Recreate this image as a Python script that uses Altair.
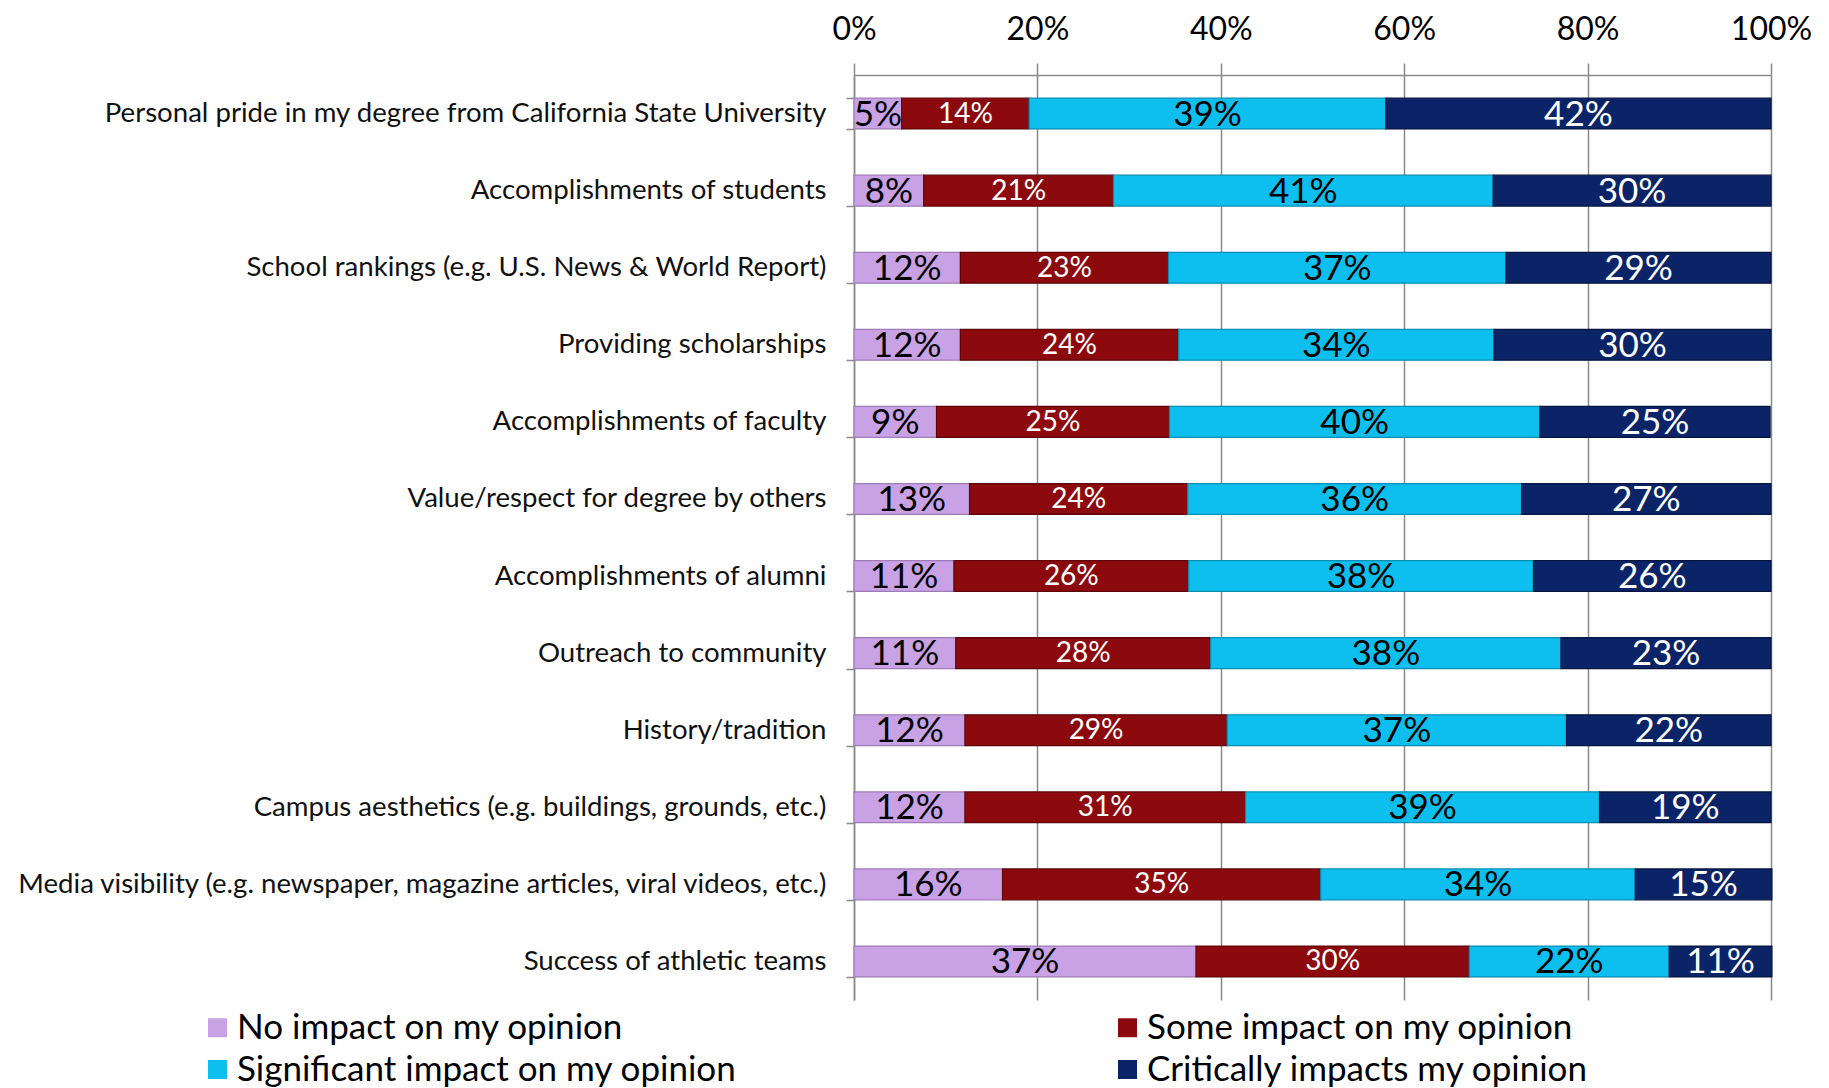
import altair as alt
import pandas as pd

items = [
    "Personal pride in my degree from California State University",
    "Accomplishments of students",
    "School rankings (e.g. U.S. News & World Report)",
    "Providing scholarships",
    "Accomplishments of faculty",
    "Value/respect for degree by others",
    "Accomplishments of alumni",
    "Outreach to community",
    "History/tradition",
    "Campus aesthetics (e.g. buildings, grounds, etc.)",
    "Media visibility (e.g. newspaper, magazine articles, viral videos, etc.)",
    "Success of athletic teams",
]

series = [
    "No impact on my opinion",
    "Some impact on my opinion",
    "Significant impact on my opinion",
    "Critically impacts my opinion",
]
colors = ["#C9A2E6", "#8C0A0E", "#0DBFEE", "#0B2468"]
edge_colors = ["#9F7BB8", "#5E0508", "#0A8DB3", "#061540"]

no_impact = [5.2, 7.6, 11.6, 11.6, 9.0, 12.6, 10.9, 11.1, 12.1, 12.1, 16.2, 37.3]
some_impact = [13.9, 20.7, 22.7, 23.8, 25.4, 23.8, 25.6, 27.8, 28.6, 30.6, 34.7, 29.8]
significant = [38.9, 41.4, 36.8, 34.4, 40.4, 36.4, 37.6, 38.2, 37.0, 38.6, 34.3, 21.8]
critical = [42.0, 30.3, 28.9, 30.2, 25.1, 27.2, 25.9, 22.9, 22.3, 18.7, 14.9, 11.2]

rows = []
for k, vals in enumerate([no_impact, some_impact, significant, critical]):
    for item, v in zip(items, vals):
        rows.append({"item": item, "series": series[k], "order": k, "value": v / 100.0})
df = pd.DataFrame(rows)

FONT = "Lato"
GRID = "#8a8a8a"

y_enc = alt.Y(
    "item:N",
    sort=items,
    title=None,
    scale=alt.Scale(paddingInner=0.6),
    axis=alt.Axis(
        orient="left",
        labelFont=FONT,
        labelFontSize=27.6,
        labelColor="#111111",
        labelPadding=20,
        labelLimit=1000,
        tickBand="extent",
        tickSize=8,
        tickColor=GRID,
        tickWidth=1.5,
        domainColor=GRID,
        domainWidth=1.5,
        grid=False,
    ),
)

x_scale = alt.Scale(domain=[0, 1], nice=False)
x_axis = alt.Axis(
    orient="top",
    values=[0, 0.2, 0.4, 0.6, 0.8, 1.0],
    format=".0%",
    labelFont=FONT,
    labelFontSize=32,
    labelColor="#000000",
    labelPadding=17,
    tickSize=12,
    tickColor=GRID,
    tickWidth=1.5,
    domainColor=GRID,
    domainWidth=1.5,
    grid=True,
    gridColor=GRID,
    gridWidth=1.5,
    labelFlush=False,
)

bars = alt.Chart(df).mark_bar(strokeWidth=1.2).encode(
    x=alt.X("value:Q", stack="zero", scale=x_scale, axis=x_axis, title=None),
    y=y_enc,
    order=alt.Order("order:Q"),
    stroke=alt.Stroke("series:N", scale=alt.Scale(domain=series, range=edge_colors), legend=None),
    color=alt.Color(
        "series:N",
        scale=alt.Scale(domain=series, range=colors),
        legend=alt.Legend(
            title=None,
            orient="none",
            legendX=-654,
            legendY=935,
            direction="horizontal",
            columns=2,
            columnPadding=373,
            rowPadding=6,
            symbolType="square",
            symbolSize=360,
            symbolStrokeWidth=0,
            labelFont=FONT,
            labelFontSize=35,
            labelColor="#000000",
            labelOffset=2,
            labelLimit=1000,
            padding=0,
        ),
    ),
)

text_base = (
    alt.Chart(df)
    .transform_stack(
        stack="value",
        groupby=["item"],
        sort=[alt.SortField("order", order="ascending")],
        as_=["v0", "v1"],
    )
    .transform_calculate(mid="(datum.v0 + datum.v1) / 2")
)

def labels(filter_expr, color, size):
    return text_base.transform_filter(filter_expr).mark_text(
        font=FONT, fontSize=size, color=color, baseline="middle", align="center", dy=1
    ).encode(
        x=alt.X("mid:Q", scale=x_scale, title=None),
        y=alt.Y("item:N", sort=items, title=None),
        text=alt.Text("value:Q", format=".0%"),
    )

t_dark = labels("datum.order == 0 || datum.order == 2", "#000000", 35)
t_red = labels("datum.order == 1", "#ffffff", 28)
t_navy = labels("datum.order == 3", "#ffffff", 35)

chart = (
    alt.layer(bars, t_dark, t_red, t_navy)
    .properties(
        width=917,
        height=925,
        padding={"left": 846, "top": 67, "right": 40, "bottom": 88},
        autosize=alt.AutoSizeParams(type="none"),
    )
    .configure_view(stroke=None)
)

chart.save("out.html", embed_options={"renderer": "svg", "actions": False})
